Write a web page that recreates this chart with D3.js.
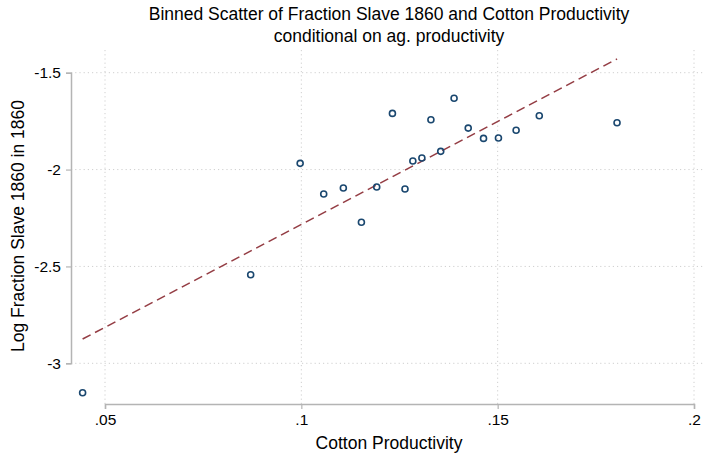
<!DOCTYPE html>
<html>
<head>
<meta charset="utf-8">
<script src="https://cdn.jsdelivr.net/npm/d3@7"></script>
<style>
  body { margin: 0; background: #fff; }
  svg text { font-family: "Liberation Sans", Arial, sans-serif; fill: #000; }
  .grid line { stroke: #cfcfcf; stroke-dasharray: 1.2, 3; }
</style>
</head>
<body>
<svg id="chart" width="709" height="457"></svg>
<script>
// binned scatter values
var cottonProd = [0.0443, 0.0871, 0.0997, 0.1057, 0.1107, 0.1153, 0.1192, 0.1232, 0.1264, 0.1284,
                  0.1307, 0.1330, 0.1355, 0.1389, 0.1425, 0.1464, 0.1502, 0.1547, 0.1606, 0.1804];
var logSlave = [-3.152, -2.543, -1.968, -2.126, -2.095, -2.272, -2.090, -1.710, -2.100, -1.956,
                -1.940, -1.743, -1.906, -1.632, -1.786, -1.839, -1.837, -1.797, -1.722, -1.758];
// fitted line endpoints
var fitX = [0.0443, 0.1804];
var fitY = [-2.875, -1.429];

var xTicks = [0.05, 0.1, 0.15, 0.2];
var xTickLabels = ['.05', '.1', '.15', '.2'];
var yTicks = [-1.5, -2, -2.5, -3];
var yTickLabels = ['-1.5', '-2', '-2.5', '-3'];

var svg = d3.select('#chart');

var scaleX = d3.scaleLinear().domain([0.05, 0.2]).range([105, 694]);
var scaleY = d3.scaleLinear().domain([-1.5, -3]).range([72.7, 363.3]);

var plotLeft = 71, plotRight = 705, plotTop = 50, plotBottom = 404;

// gridlines
var grid = svg.append('g').attr('class', 'grid');
grid.selectAll('.gx').data(xTicks).enter().append('line')
    .attr('x1', d => scaleX(d)).attr('x2', d => scaleX(d))
    .attr('y1', plotTop).attr('y2', plotBottom);
grid.selectAll('.gy').data(yTicks).enter().append('line')
    .attr('x1', plotLeft).attr('x2', plotRight)
    .attr('y1', d => scaleY(d)).attr('y2', d => scaleY(d));

// x axis
var xAxis = d3.axisBottom(scaleX)
    .tickValues(xTicks)
    .tickFormat((d, i) => xTickLabels[i])
    .tickSizeOuter(0)
    .tickSize(5)
    .tickPadding(5);
var gx = svg.append('g').attr('transform', 'translate(0,' + plotBottom + ')').call(xAxis);
gx.select('.domain').attr('stroke', '#b4b4b4').attr('stroke-width', 1.5);
gx.selectAll('.tick line').attr('stroke', '#b4b4b4').attr('stroke-width', 1.2);
gx.selectAll('.tick text').style('font-size', '15.5px').attr('fill', '#000');

// y axis
var yAxis = d3.axisLeft(scaleY)
    .tickValues(yTicks)
    .tickFormat((d, i) => yTickLabels[i])
    .tickSizeOuter(0)
    .tickSize(5)
    .tickPadding(5);
var gy = svg.append('g').attr('transform', 'translate(' + plotLeft + ',0)').call(yAxis);
gy.select('.domain').attr('stroke', '#b4b4b4').attr('stroke-width', 1.5);
gy.selectAll('.tick line').attr('stroke', '#b4b4b4').attr('stroke-width', 1.2);
gy.selectAll('.tick text').style('font-size', '15.5px').attr('fill', '#000');

// fitted line
svg.append('line')
    .attr('x1', scaleX(fitX[0])).attr('y1', scaleY(fitY[0]))
    .attr('x2', scaleX(fitX[1])).attr('y2', scaleY(fitY[1]))
    .attr('stroke', '#943d44')
    .attr('stroke-width', 1.6)
    .style('stroke-dasharray', '9, 5');

// points
svg.selectAll('.pt').data(cottonProd).enter().append('circle')
    .attr('class', 'pt')
    .attr('cx', d => scaleX(d))
    .attr('cy', (d, i) => scaleY(logSlave[i]))
    .attr('r', 3)
    .attr('fill', 'none')
    .attr('stroke', '#1a476f')
    .attr('stroke-width', 1.6);

// titles
svg.append('text')
    .attr('x', 389).attr('y', 20)
    .attr('text-anchor', 'middle')
    .style('font-size', '17.5px')
    .text('Binned Scatter of Fraction Slave 1860 and Cotton Productivity');
svg.append('text')
    .attr('x', 389).attr('y', 42)
    .attr('text-anchor', 'middle')
    .style('font-size', '17.5px')
    .text('conditional on ag. productivity');

svg.append('text')
    .attr('x', 389).attr('y', 449)
    .attr('text-anchor', 'middle')
    .style('font-size', '17.5px')
    .text('Cotton Productivity');

svg.append('text')
    .attr('transform', 'translate(24,226) rotate(-90)')
    .attr('text-anchor', 'middle')
    .style('font-size', '17.5px')
    .text('Log Fraction Slave 1860 in 1860');
</script>
</body>
</html>
